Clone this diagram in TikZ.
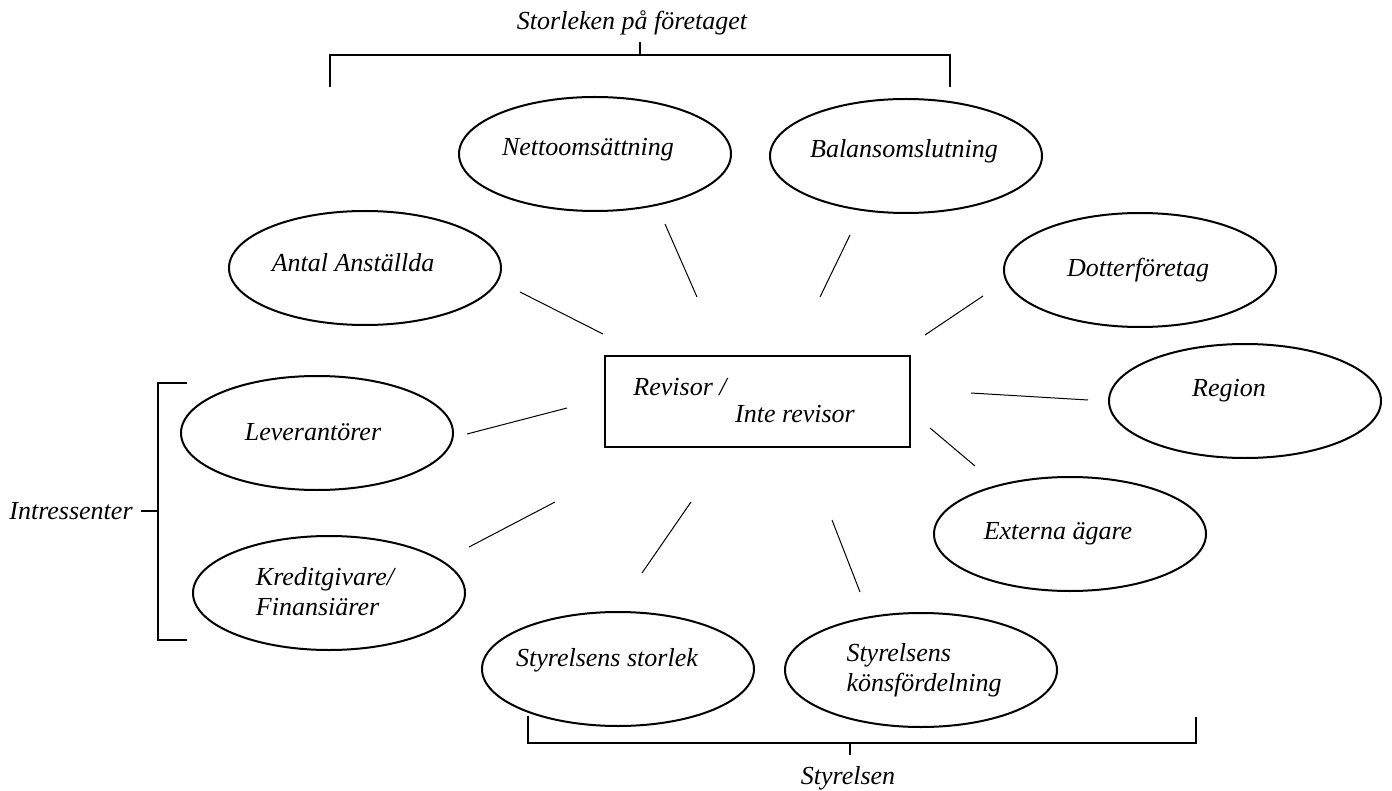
\documentclass[tikz,border=0pt]{standalone}
\usepackage{fontspec}
\setmainfont{Liberation Serif}
\usetikzlibrary{shapes.geometric}
\begin{document}
\begin{tikzpicture}[x=0.5pt,y=-0.5pt,font=\fontsize{13}{15}\selectfont\itshape,
	oval/.style={draw,ellipse,line width=1pt,minimum width=136pt,minimum height=57pt,inner sep=0pt},
	lbl/.style={inner sep=0pt,align=left},
	spoke/.style={line width=0.5pt},
	brack/.style={line width=0.7pt}]
	\useasboundingbox (0,0) rectangle (1392,791);
	% mittrutan
	\node[draw,line width=1pt,minimum width=152.5pt,minimum height=45.5pt,inner sep=0pt] (box) at (757.5,401.5) {};
	\node[lbl] (rev) at (680,387) {Revisor /};
	\node[lbl] (inte) at (795,414) {Inte revisor};
	% ovaler
	\node[oval] (netto) at (595,154) {};
	\node[lbl] at (588,150) {Nettoomsättning};
	\node[oval] (balans) at (906,156) {};
	\node[lbl] at (904,151) {Balansomslutning};
	\node[oval] (antal) at (365,268) {};
	\node[lbl] at (353,263) {Antal Anställda};
	\node[oval] (dotter) at (1140,270) {};
	\node[lbl] at (1138,270) {Dotterföretag};
	\node[oval] (region) at (1245,401) {};
	\node[lbl] at (1229,391) {Region};
	\node[oval] (lev) at (317,433) {};
	\node[lbl] at (313,432) {Leverantörer};
	\node[oval] (ext) at (1070,534) {};
	\node[lbl] at (1058,534) {Externa ägare};
	\node[oval] (kredit) at (329,593) {};
	\node[lbl] at (325,592) {Kreditgivare/\\Finansiärer};
	\node[oval] (storlek) at (618,669) {};
	\node[lbl] at (607,660) {Styrelsens storlek};
	\node[oval] (kon) at (921,670) {};
	\node[lbl] at (924,670) {Styrelsens\\könsfördelning};
	% linjer
	\foreach \n/\p/\q in {antal/{520,292}/{603,334},netto/{665,224}/{697,297},
		balans/{850,235}/{820,297},dotter/{983,296}/{925,335},region/{971,393}/{1088,400},
		ext/{930,428}/{975,466},kon/{832,520}/{860,592},storlek/{691,502}/{642,573},
		kredit/{555,502}/{469,547},lev/{567,408}/{467,434}}{
		\coordinate (\n-a) at (\p);
		\coordinate (\n-b) at (\q);
		\draw[spoke] (\n-a) -- (\n-b);
	}
	% klamrar
	\node[lbl] (stor) at (632,23) {Storleken på företaget};
	\coordinate (stor-t) at (640,55);
	\draw[brack] (330,87) -- (330,55) -- (950,55) -- (950,87);
	\draw[brack] (stor-t) -- ++(0,-13);
	\node[lbl] (intr) at (71,511) {Intressenter};
	\coordinate (intr-t) at (158,511);
	\draw[brack] (187,383) -- (158,383) -- (158,640) -- (187,640);
	\draw[brack] (intr-t) -- ++(-17,0);
	\node[lbl] (styr) at (848,778) {Styrelsen};
	\coordinate (styr-t) at (850,743);
	\draw[brack] (528,716) -- (528,743) -- (1196,743) -- (1196,717);
	\draw[brack] (styr-t) -- ++(0,12);
\end{tikzpicture}
\end{document}
